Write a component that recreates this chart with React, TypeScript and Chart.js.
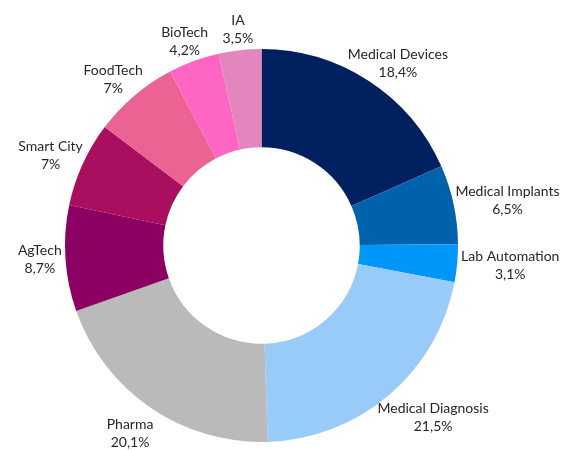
import React, { useEffect, useRef } from "react";
import { Chart, registerables } from "chart.js";

Chart.register(...registerables);

const categories = [
  "Medical Devices",
  "Medical Implants",
  "Lab Automation",
  "Medical Diagnosis",
  "Pharma",
  "AgTech",
  "Smart City",
  "FoodTech",
  "BioTech",
  "IA",
];
const shares = [18.4, 6.5, 3.1, 21.5, 20.1, 8.7, 7, 7, 4.2, 3.5];
const colors = [
  "#002060",
  "#0061AC",
  "#0096FA",
  "#99CBF8",
  "#BABABA",
  "#8B0062",
  "#AA0E5F",
  "#EA6393",
  "#FF66C4",
  "#E386BD",
];

const FONT_FAMILY = "Lato, 'Open Sans', sans-serif";
const FONT_SIZE = 14;
const LINE_H = 18;
const GAP = 3;

const outsideLabels = {
  id: "outsideLabels",
  afterDatasetsDraw(chart: any) {
    const ctx = chart.ctx;
    const meta = chart.getDatasetMeta(0);
    ctx.save();
    ctx.font = `${FONT_SIZE}px ${FONT_FAMILY}`;
    ctx.fillStyle = "#262626";
    ctx.textAlign = "center";
    ctx.textBaseline = "middle";
    meta.data.forEach((arc: any, i: number) => {
      const p = arc.getProps(["x", "y", "startAngle", "endAngle", "outerRadius"], true);
      const mid = (p.startAngle + p.endAngle) / 2;
      const dx = Math.cos(mid);
      const dy = Math.sin(mid);
      const line1 = categories[i];
      const line2 = String(shares[i]).replace(".", ",") + "%";
      const w = Math.max(ctx.measureText(line1).width, ctx.measureText(line2).width);
      const h = LINE_H * 2;
      const r = p.outerRadius + GAP + 12 * Math.max(0, dy);
      const ax = p.x + r * dx;
      const ay = p.y + r * dy;
      const cx = ax + (dx * w) / 2;
      const cy = ay + (dy * h) / 2;
      ctx.fillText(line1, cx, cy - LINE_H / 2);
      ctx.fillText(line2, cx, cy + LINE_H / 2);
    });
    ctx.restore();
  },
};

export default function App() {
  const ref = useRef<HTMLCanvasElement | null>(null);
  useEffect(() => {
    if (!ref.current) return;
    const chart = new Chart(ref.current, {
      type: "doughnut",
      data: {
        labels: categories,
        datasets: [
          {
            data: shares,
            backgroundColor: colors,
            borderWidth: 0,
          },
        ],
      },
      options: {
        animation: false,
        responsive: true,
        maintainAspectRatio: false,
        cutout: "50%",
        layout: { padding: { top: 49, bottom: 8, left: 65, right: 108 } },
        plugins: {
          legend: { display: false },
          tooltip: { enabled: false },
        },
      },
      plugins: [outsideLabels],
    });
    return () => chart.destroy();
  }, []);
  return (
    <div style={{ position: "absolute", left: 0, top: 0, width: 566, height: 450 }}>
      <canvas ref={ref} />
    </div>
  );
}
